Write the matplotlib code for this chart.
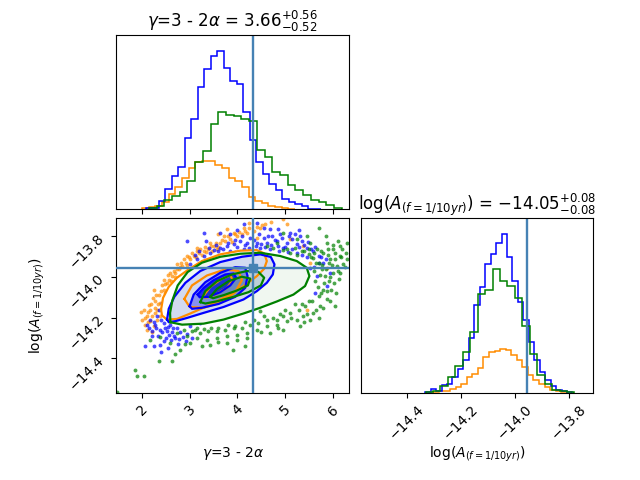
#!/usr/bin/env python3
import matplotlib
matplotlib.use("Agg")
import matplotlib.pyplot as plt
import numpy as np

GAMMA_LABEL = r"$\gamma$=3 - 2$\alpha$"
AMP_LABEL = r"$\log(A_{(f=1/10yr)})$"
GAMMA_TITLE = GAMMA_LABEL + r" = $3.66^{+0.56}_{-0.52}$"
AMP_TITLE = AMP_LABEL + r" = $-14.05^{+0.08}_{-0.08}$"

TRUTH_GAMMA = 4.33
TRUTH_AMP = -13.955

GAMMA_LIM = (1.46, 6.34)
AMP_LIM = (-14.569, -13.71)
GAMMA_TICKS = [2, 3, 4, 5, 6]
AMP_TICKS = [-14.4, -14.2, -14.0, -13.8]

# 1D marginals: (first edge, last edge) and counts per bin
gamma_blue_range = (2.0795, 5.751)
gamma_blue = [1.7, 1.0, 8, 20.7, 33, 42.3, 70.7, 90.3, 121.7, 139.7, 153, 157.7, 141, 127.7,
              124.7, 97.3, 69, 47.3, 35.7, 25, 19, 10.7, 7.3, 5.7, 3.3, 0.7, 0.7]
gamma_green_range = (2.1425, 6.185)
gamma_green = [1.7, 3.7, 9, 13.3, 17.3, 28.3, 47.3, 58.3, 84.7, 96.7, 94, 93, 90, 88.3,
               59, 51.7, 37.3, 34, 24, 19, 14.7, 9.7, 7.3, 4, 1.7]
gamma_orange_range = (1.9992, 5.2077)
gamma_orange = [1.5, 2.3, 3.3, 7.3, 15, 22, 31, 41, 47.3, 48, 48, 44, 41, 31, 28, 22, 12,
                8, 6, 3.5, 2, 1, 0.5]

amp_blue_range = (-14.331, -13.7875)
amp_blue = [0.5, 3.5, 2, 8, 9, 16, 24, 33, 54.7, 87, 105.3, 127.7, 137.7, 148.7,
            157.7, 135.3, 111, 89.7, 72, 50.3, 32.7, 20.3, 13, 7, 2.7, 1.3, 0.3]
amp_green_range = (-14.3298, -13.78)
amp_green = [0.5, 2, 7, 16, 27, 40, 60.3, 97.7, 102, 123, 111, 106.3, 93.7, 66.3, 38.7,
             18, 8.7, 3, 1.3, 0.3]
amp_orange_range = (-14.3006, -13.8086)
amp_orange = [0.5, 1.3, 2, 3.7, 6, 8.7, 16, 18.7, 24.7, 35.3, 40.3, 41.3, 43.7, 42.7,
              37.7, 32.7, 25.3, 18, 13, 8.7, 5.3, 3, 1.3, 0.5]

# 2D contour outlines (gamma, logA), outer -> inner
orange_contours = [
    [(2.397, -14.160), (2.439, -14.102), (2.558, -14.048), (2.732, -14.003), (2.976, -13.962),
     (3.255, -13.921), (3.639, -13.888), (4.057, -13.870), (4.406, -13.867), (4.559, -13.883),
     (4.615, -13.921), (4.559, -13.959), (4.406, -13.995), (4.127, -14.044), (3.743, -14.097),
     (3.360, -14.143), (3.011, -14.179), (2.732, -14.206), (2.523, -14.209), (2.418, -14.189)],
    [(2.886, -14.107), (3.046, -14.041), (3.360, -13.992), (3.743, -13.962), (4.022, -13.970),
     (4.092, -14.015), (3.953, -14.074), (3.674, -14.123), (3.290, -14.151), (2.997, -14.147)],
    [(3.290, -14.091), (3.430, -14.048), (3.674, -14.008), (3.848, -13.992), (3.904, -14.015),
     (3.778, -14.053), (3.534, -14.086), (3.325, -14.102)],
]
blue_contours = [
    [(2.523, -14.209), (2.558, -14.156), (2.676, -14.097), (2.907, -14.028), (3.220, -13.970),
     (3.639, -13.926), (4.092, -13.900), (4.476, -13.888), (4.699, -13.901), (4.775, -13.937),
     (4.741, -13.987), (4.615, -14.028), (4.406, -14.069), (4.127, -14.110), (3.708, -14.147),
     (3.290, -14.176), (2.941, -14.201), (2.697, -14.217), (2.558, -14.222)],
    [(2.997, -14.143), (3.081, -14.086), (3.325, -14.025), (3.639, -13.979), (3.953, -13.951),
     (4.162, -13.954), (4.211, -13.995), (4.162, -14.053), (3.953, -14.097), (3.604, -14.132),
     (3.255, -14.151), (3.046, -14.156)],
    [(3.165, -14.086), (3.290, -14.053), (3.499, -14.015), (3.743, -13.987), (3.918, -13.982),
     (3.973, -14.003), (3.848, -14.041), (3.639, -14.074), (3.395, -14.097), (3.206, -14.099)],
]
green_contours = [
    [(2.593, -14.222), (2.837, -14.234), (3.290, -14.229), (3.708, -14.209), (4.127, -14.179),
     (4.476, -14.151), (4.824, -14.120), (5.173, -14.086), (5.417, -14.044), (5.508, -13.995),
     (5.452, -13.954), (5.243, -13.921), (4.894, -13.896), (4.476, -13.880), (4.057, -13.885),
     (3.639, -13.900), (3.255, -13.929), (2.955, -13.975), (2.746, -14.041), (2.635, -14.114),
     (2.586, -14.176)],
    [(3.220, -14.123), (3.325, -14.069), (3.569, -14.020), (3.883, -13.987), (4.197, -13.970),
     (4.441, -13.975), (4.559, -14.003), (4.490, -14.041), (4.232, -14.074), (3.918, -14.097),
     (3.569, -14.119), (3.325, -14.130)],
    [(3.430, -14.097), (3.569, -14.058), (3.813, -14.020), (4.092, -13.998), (4.266, -14.007),
     (4.218, -14.041), (3.987, -14.066), (3.708, -14.089), (3.485, -14.104)],
]

# samples outside the outer contours
orange_pts = [
    (2.03, -14.160), (2.10, -14.193), (2.17, -14.217), (2.07, -14.234), (2.24, -14.242),
    (2.14, -14.135), (2.23, -14.102), (2.31, -14.160), (2.35, -14.086), (2.45, -14.061),
    (2.38, -14.127), (2.49, -14.036), (2.56, -14.012), (2.63, -13.995), (2.70, -13.979),
    (2.77, -13.962), (2.84, -13.946), (2.91, -13.929), (3.01, -13.913), (3.08, -13.896),
    (3.19, -13.880), (3.29, -13.872), (3.39, -13.860), (3.50, -13.847), (3.64, -13.830),
    (3.74, -13.822), (3.85, -13.811), (3.99, -13.798), (4.09, -13.789), (4.20, -13.781),
    (4.34, -13.773), (4.48, -13.756), (4.58, -13.740), (4.96, -13.715), (5.03, -13.740),
    (2.24, -14.061), (2.28, -14.176), (2.59, -13.979), (2.94, -13.896), (3.15, -13.855),
    (3.43, -13.830), (3.71, -13.798), (3.92, -13.781), (4.13, -13.756), (2.17, -14.160),
    (2.45, -14.012), (2.73, -13.937), (3.57, -13.863), (4.41, -13.806), (5.38, -13.847),
    (5.52, -13.929), (5.87, -13.954), (5.45, -14.160), (5.10, -13.814), (3.78, -13.765),
    (2.38, -14.193), (2.52, -14.160), (2.31, -14.209),
    (2.05, -14.200), (2.12, -14.170), (2.18, -14.130), (2.20, -14.190), (2.27, -14.120),
    (2.30, -14.090), (2.33, -14.130), (2.40, -14.070), (2.42, -14.040), (2.47, -14.080),
    (2.52, -14.030), (2.55, -13.990), (2.60, -14.020), (2.66, -13.970), (2.68, -14.000),
    (2.74, -13.960), (2.80, -13.950), (2.82, -13.930), (2.88, -13.910), (2.95, -13.940),
    (2.98, -13.900), (3.05, -13.880), (3.12, -13.900), (3.15, -13.870), (3.22, -13.860),
    (3.25, -13.890), (3.32, -13.850), (3.35, -13.875), (3.45, -13.845), (3.47, -13.870),
    (3.55, -13.830), (3.60, -13.850), (3.68, -13.815), (3.80, -13.800), (3.88, -13.825),
    (3.95, -13.790), (4.03, -13.780), (4.15, -13.775), (4.25, -13.760), (4.40, -13.755),
    (4.52, -13.745), (2.10, -14.260), (2.00, -14.210), (2.20, -14.270), (2.13, -14.220),
    (1.98, -14.170), (2.26, -14.150), (4.70, -13.730), (4.25, -13.735), (3.60, -13.790),
]
blue_pts = [
    (3.43, -13.880), (3.60, -13.872), (3.78, -13.847), (3.92, -13.839), (4.06, -13.822),
    (4.20, -13.830), (4.27, -13.806), (4.41, -13.830), (4.55, -13.806), (4.62, -13.830),
    (4.72, -13.798), (4.82, -13.822), (4.93, -13.806), (5.03, -13.830), (5.14, -13.814),
    (5.24, -13.839), (5.35, -13.822), (5.45, -13.855), (5.59, -13.872), (5.70, -13.896),
    (5.80, -13.929), (5.52, -13.954), (5.66, -13.995), (5.24, -13.880), (4.96, -13.855),
    (4.68, -13.863), (4.48, -13.855), (4.13, -13.863), (3.85, -13.872), (3.64, -13.855),
    (3.29, -13.896), (3.15, -13.913), (3.01, -13.937), (2.94, -13.822), (3.29, -13.781),
    (3.64, -13.781), (4.13, -13.740), (4.41, -13.732), (4.68, -13.765), (5.10, -13.781),
    (5.94, -13.979), (5.87, -14.044), (5.63, -14.077),
    (2.17, -14.209), (2.28, -14.234), (2.38, -14.258), (2.49, -14.250), (2.56, -14.283),
    (2.66, -14.291), (2.77, -14.305), (2.91, -14.316), (2.45, -14.226), (2.31, -14.193),
    (2.59, -14.234), (2.73, -14.250), (2.10, -14.234), (2.21, -14.267), (2.45, -14.316),
    (2.38, -14.333), (2.07, -14.341), (3.01, -14.242), (3.22, -14.226), (2.35, -14.160),
    (2.42, -14.127), (2.49, -14.102), (2.56, -14.077), (2.66, -14.044), (2.77, -14.020),
    (2.87, -13.995),
    (3.50, -13.865), (3.70, -13.860), (3.80, -13.830), (3.95, -13.815), (4.00, -13.850),
    (4.10, -13.800), (4.15, -13.840), (4.25, -13.855), (4.35, -13.815), (4.38, -13.845),
    (4.45, -13.790), (4.50, -13.835), (4.58, -13.850), (4.65, -13.800), (4.70, -13.840),
    (4.78, -13.815), (4.85, -13.845), (4.90, -13.790), (5.00, -13.850), (5.07, -13.800),
    (5.15, -13.860), (5.20, -13.790), (5.28, -13.850), (5.32, -13.800), (5.40, -13.840),
    (5.48, -13.825), (5.55, -13.860), (5.62, -13.850), (5.75, -13.900), (5.85, -13.910),
    (5.70, -13.930), (5.60, -13.950), (5.45, -13.900), (5.35, -13.890), (5.05, -13.875),
    (4.88, -13.870), (4.30, -13.875), (3.95, -13.875), (3.40, -13.855), (3.55, -13.840),
    (3.20, -13.870), (3.10, -13.890), (3.35, -13.820), (4.00, -13.770), (4.55, -13.760),
    (4.85, -13.765), (5.30, -13.770), (3.85, -13.790),
    (2.30, -14.250), (2.42, -14.270), (2.52, -14.265), (2.62, -14.270), (2.70, -14.300),
    (2.85, -14.295), (2.50, -14.300), (2.60, -14.310), (2.33, -14.290), (2.20, -14.290),
    (2.15, -14.250), (2.25, -14.220), (2.40, -14.210), (2.55, -14.245), (2.65, -14.250),
    (2.80, -14.270), (2.95, -14.280), (3.05, -14.300), (2.75, -14.330), (2.55, -14.350),
    (2.40, -14.370), (2.25, -14.340),
]
green_pts = [
    (4.62, -13.847), (4.82, -13.830), (4.75, -13.855), (5.03, -13.863), (5.21, -13.855),
    (5.35, -13.872), (5.49, -13.888), (5.59, -13.905), (5.70, -13.929), (5.77, -13.962),
    (5.84, -13.995), (5.91, -14.020), (5.80, -14.061), (5.70, -14.094), (5.56, -14.119),
    (5.42, -14.143), (5.28, -14.160), (5.10, -14.176), (5.94, -13.913), (6.04, -13.880),
    (6.15, -13.847), (6.08, -13.946), (6.01, -13.979), (5.97, -14.061), (5.87, -14.110),
    (5.73, -14.143), (5.59, -14.176), (5.38, -14.193), (6.15, -13.896), (6.22, -13.937),
    (6.30, -13.830), (5.70, -13.756), (5.52, -13.830), (5.87, -13.830), (5.66, -13.863),
    (5.80, -13.880), (6.01, -13.863), (5.91, -13.929), (6.15, -13.979), (5.24, -13.814),
    (5.45, -13.798), (4.96, -13.781),
    (4.96, -14.193), (4.82, -14.209), (4.62, -14.209), (4.44, -14.226), (4.27, -14.234),
    (4.09, -14.250), (3.92, -14.250), (3.74, -14.258), (3.57, -14.267), (3.39, -14.267),
    (3.22, -14.275), (3.05, -14.267), (2.87, -14.258), (2.73, -14.275), (2.94, -14.291),
    (3.15, -14.300), (3.36, -14.308), (3.57, -14.300), (3.78, -14.291), (3.99, -14.283),
    (4.20, -14.275), (4.41, -14.258), (4.62, -14.242), (4.82, -14.234), (5.03, -14.217),
    (5.24, -14.209), (5.52, -14.209), (5.31, -14.242), (4.20, -14.300), (4.16, -14.341),
    (3.43, -14.333), (3.01, -14.324), (2.80, -14.357), (2.63, -14.415), (2.35, -14.415),
    (1.86, -14.456), (1.90, -14.489), (2.03, -14.489), (1.48, -14.563), (3.78, -14.324),
    (4.68, -14.275), (4.96, -14.258), (2.38, -14.296), (2.59, -14.324), (2.17, -14.308),
    (3.15, -14.250), (4.48, -14.168),
    (5.55, -13.900), (5.60, -13.970), (5.62, -14.020), (5.65, -13.930), (5.68, -14.050),
    (5.72, -13.990), (5.75, -14.080), (5.78, -13.940), (5.82, -14.030), (5.85, -13.960),
    (5.88, -14.070), (5.90, -13.890), (5.95, -14.000), (5.98, -13.940), (6.02, -14.030),
    (6.05, -13.910), (6.10, -13.970), (6.12, -14.010), (6.18, -13.900), (6.20, -13.860),
    (6.25, -13.950), (6.28, -13.880), (6.07, -14.080), (5.95, -14.120), (5.80, -14.150),
    (5.65, -14.160), (5.50, -14.120), (5.45, -14.180), (5.35, -14.130), (5.20, -14.130),
    (5.12, -14.200), (5.00, -14.160), (4.90, -14.180), (4.75, -14.200), (4.55, -14.190),
    (4.35, -14.210), (4.15, -14.220), (3.95, -14.240), (3.80, -14.235), (3.60, -14.250),
    (3.45, -14.250), (3.30, -14.255), (3.10, -14.260), (5.40, -13.870), (5.25, -13.890),
    (5.10, -13.880), (4.95, -13.865), (5.50, -13.860), (5.60, -13.880), (5.75, -13.870),
    (5.90, -13.860), (6.00, -13.840), (6.10, -13.820), (5.85, -13.800), (6.30, -13.910),
    (6.05, -14.140), (5.70, -14.200), (5.40, -14.220), (4.85, -14.250), (4.50, -14.270),
    (4.00, -14.310), (3.60, -14.320), (3.25, -14.340), (2.90, -14.330), (2.70, -14.380),
    (3.90, -14.360),
]

TRUTH_COLOR = "#4682b4"
SERIES = [
    # colour, gamma hist, amp hist, contours, points, density alphas
    ("darkorange", gamma_orange_range, gamma_orange, amp_orange_range, amp_orange,
     orange_contours, orange_pts, (0.0, 0.0, 0.0)),
    ("blue", gamma_blue_range, gamma_blue, amp_blue_range, amp_blue,
     blue_contours, blue_pts, (0.12, 0.35, 0.75)),
    ("green", gamma_green_range, gamma_green, amp_green_range, amp_green,
     green_contours, green_pts, (0.06, 0.10, 0.12)),
]


def stairs(ax, rng, counts, color):
    edges = np.linspace(rng[0], rng[1], len(counts) + 1)
    ax.stairs(counts, edges, color=color, lw=1.1)


def main() -> None:
    fig, axes = plt.subplots(2, 2, figsize=(6.4, 4.8), dpi=100)
    lb, tr = 1.0 / 5.5, 5.1 / 5.5
    fig.subplots_adjust(left=lb, bottom=lb, right=tr, top=tr, wspace=0.05, hspace=0.05)
    ax_g, ax_off, ax_2d, ax_a = axes[0, 0], axes[0, 1], axes[1, 0], axes[1, 1]
    ax_off.set_frame_on(False)
    ax_off.set_xticks([])
    ax_off.set_yticks([])

    ymax_g = ymax_a = 0
    for color, g_rng, g_cnt, a_rng, a_cnt, cont, pts, dens in SERIES:
        stairs(ax_g, g_rng, g_cnt, color)
        stairs(ax_a, a_rng, a_cnt, color)
        ymax_g = max(ymax_g, max(g_cnt))
        ymax_a = max(ymax_a, max(a_cnt))

        p = np.array(pts)
        ax_2d.plot(p[:, 0], p[:, 1], "o", ms=2.8, mew=0, color=color, alpha=0.7, zorder=1)

    # white inside outer contours, then density tints, then the outlines
    for color, *_, cont, pts, dens in SERIES:
        c = np.array(cont[0])
        ax_2d.fill(c[:, 0], c[:, 1], color="white", lw=0, zorder=2)
    for color, *_, cont, pts, dens in SERIES:
        for level, a in zip(cont, dens):
            if a > 0:
                c = np.array(level)
                ax_2d.fill(c[:, 0], c[:, 1], color=color, alpha=a, lw=0, zorder=3)
    for color, *_, cont, pts, dens in SERIES:
        for level in cont:
            c = np.array(level + level[:1])
            ax_2d.plot(c[:, 0], c[:, 1], color=color, lw=1.6, zorder=4,
                       solid_joinstyle="round")

    # truths
    ax_g.axvline(TRUTH_GAMMA, color=TRUTH_COLOR, lw=1.7)
    ax_a.axvline(TRUTH_AMP, color=TRUTH_COLOR, lw=1.7)
    ax_2d.axvline(TRUTH_GAMMA, color=TRUTH_COLOR, lw=1.7, zorder=5)
    ax_2d.axhline(TRUTH_AMP, color=TRUTH_COLOR, lw=1.7, zorder=5)
    ax_2d.plot(TRUTH_GAMMA, TRUTH_AMP, "s", color=TRUTH_COLOR, ms=6, zorder=6)

    ax_g.set_xlim(*GAMMA_LIM)
    ax_g.set_ylim(0, 1.1 * ymax_g)
    ax_g.set_xticks(GAMMA_TICKS)
    ax_g.set_xticklabels([])
    ax_g.set_yticks([])
    ax_g.set_title(GAMMA_TITLE, fontsize=12)

    ax_a.set_xlim(*AMP_LIM)
    ax_a.set_ylim(0, 1.1 * ymax_a)
    ax_a.set_xticks(AMP_TICKS)
    ax_a.set_yticks([])
    ax_a.set_title(AMP_TITLE, fontsize=12)
    ax_a.set_xlabel(AMP_LABEL)
    ax_a.xaxis.set_label_coords(0.5, -0.3)
    for t in ax_a.get_xticklabels():
        t.set_rotation(45)

    ax_2d.set_xlim(*GAMMA_LIM)
    ax_2d.set_ylim(*AMP_LIM)
    ax_2d.set_xticks(GAMMA_TICKS)
    ax_2d.set_yticks(AMP_TICKS)
    ax_2d.set_xlabel(GAMMA_LABEL)
    ax_2d.set_ylabel(AMP_LABEL)
    ax_2d.xaxis.set_label_coords(0.5, -0.3)
    ax_2d.yaxis.set_label_coords(-0.3, 0.5)
    for t in ax_2d.get_xticklabels() + ax_2d.get_yticklabels():
        t.set_rotation(45)

    fig.savefig("out.png", dpi=100)


if __name__ == "__main__":
    main()
